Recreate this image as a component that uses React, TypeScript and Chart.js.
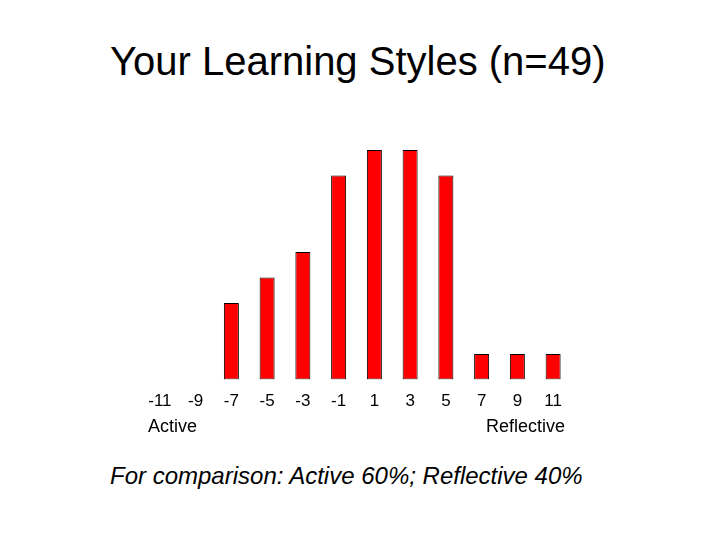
import { useEffect, useRef } from 'react';
import Chart from 'chart.js/auto';

const scoreLabels = ['-11', '-9', '-7', '-5', '-3', '-1', '1', '3', '5', '7', '9', '11'];
const studentCounts = [0, 0, 3, 4, 5, 8, 9, 9, 8, 1, 1, 1];
const endLabels = ['Active', 'Reflective'];

const chartTitle = 'Your Learning Styles (n=49)';
const caption = 'For comparison: Active 60%; Reflective 40%';

const FONT = "'Liberation Sans', Arial, sans-serif";

// draws the two pole names under the tick labels
const endLabelsPlugin = {
  id: 'endLabels',
  afterDraw(chart: Chart) {
    const { ctx, chartArea } = chart;
    const y = chartArea.bottom + 47;
    ctx.save();
    ctx.font = `18px ${FONT}`;
    ctx.fillStyle = '#000';
    ctx.textBaseline = 'middle';
    ctx.textAlign = 'left';
    ctx.fillText(endLabels[0], chartArea.left + 6, y);
    ctx.textAlign = 'right';
    ctx.fillText(endLabels[1], chartArea.right - 6, y);
    ctx.restore();
  },
};

const LearningStylesChart = () => {
  const canvasRef = useRef<HTMLCanvasElement | null>(null);
  const chartRef = useRef<Chart | null>(null);

  useEffect(() => {
    if (!canvasRef.current) return;
    const ctx = canvasRef.current.getContext('2d');
    if (!ctx) return;
    if (chartRef.current) chartRef.current.destroy();

    chartRef.current = new Chart(ctx, {
      type: 'bar',
      data: {
        labels: scoreLabels,
        datasets: [
          {
            data: studentCounts,
            backgroundColor: '#ff0000',
            borderColor: '#000000',
            borderWidth: 1,
            borderSkipped: false,
            categoryPercentage: 1,
            barPercentage: 0.42,
          },
        ],
      },
      plugins: [endLabelsPlugin],
      options: {
        animation: false,
        responsive: true,
        maintainAspectRatio: false,
        layout: { padding: { left: 142, right: 149, top: 150, bottom: 30 } },
        plugins: {
          legend: { display: false },
          tooltip: { enabled: false },
          title: { display: false },
        },
        scales: {
          x: {
            grid: { display: false },
            border: { display: false },
            ticks: {
              color: '#000',
              font: { family: FONT, size: 17 },
              padding: 4,
              maxRotation: 0,
              autoSkip: false,
            },
          },
          y: {
            display: false,
            min: 0,
            max: 9,
          },
        },
      },
    });

    return () => {
      if (chartRef.current) {
        chartRef.current.destroy();
        chartRef.current = null;
      }
    };
  }, []);

  return (
    <div style={{ position: 'fixed', left: 0, top: 0, width: 720, height: 540, background: '#fff' }}>
      <div
        style={{
          position: 'absolute',
          left: 110,
          top: 37,
          fontFamily: FONT,
          fontSize: 40,
          lineHeight: '48px',
          color: '#000',
          whiteSpace: 'nowrap',
        }}
      >
        {chartTitle}
      </div>
      <div style={{ position: 'absolute', left: 0, top: 0, width: 720, height: 446 }}>
        <canvas ref={canvasRef} />
      </div>
      <div
        style={{
          position: 'absolute',
          left: 110,
          top: 461,
          fontFamily: FONT,
          fontStyle: 'italic',
          fontSize: 24,
          lineHeight: '30px',
          color: '#000',
          whiteSpace: 'nowrap',
        }}
      >
        {caption}
      </div>
    </div>
  );
};

export default function App() {
  return <LearningStylesChart />;
}
